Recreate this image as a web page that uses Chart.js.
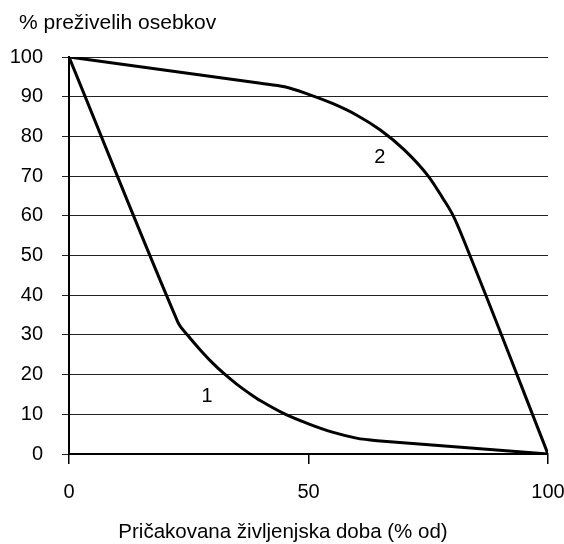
<!DOCTYPE html>
<html>
<head>
<meta charset="utf-8">
<script src="https://cdn.jsdelivr.net/npm/chart.js@4/dist/chart.umd.min.js"></script>
<style>
  html, body { margin: 0; padding: 0; background: #fff; overflow: hidden; }
  #wrap { width: 564px; height: 544px; }
</style>
</head>
<body>
<div id="wrap"><canvas id="survivalChart"></canvas></div>
<script>
// === survival curves ===
// Curve 1: high early mortality, curve 2: most die late

const curve1X = [0, 22.7, 25, 27.5, 30, 32.5, 35, 37.5, 40, 45, 50, 55, 60, 62.5, 65, 100];
const curve1Y = [100, 33.3, 29.6, 26.1, 22.9, 20.1, 17.6, 15.4, 13.4, 10.1, 7.6, 5.5, 4.0, 3.6, 3.3, 0];

const curve2X = [0, 40, 45, 50, 55, 60, 65, 70, 75, 78, 80.3, 83.7, 100];
const curve2Y = [100, 93.4, 92.5, 90.6, 88.3, 85.4, 81.6, 76.6, 70, 64.5, 59.8, 50, 0];

const curveLabels = ["1", "2"];
const labelX = [28.8, 64.9];
const labelY = [14.4, 74.6];

const yTitle = "% preživelih osebkov";
const xTitle = "Pričakovana življenjska doba (% od)";

const FONT = "'Liberation Sans', Arial, sans-serif";

const toPoints = (xs, ys) => xs.map((x, i) => ({ x, y: ys[i] }));

// draws the curve numbers and both axis titles
const textPlugin = {
  id: "textPlugin",
  afterDraw(chart) {
    const { ctx, scales } = chart;
    ctx.save();
    ctx.fillStyle = "#000";
    ctx.font = `20px ${FONT}`;
    ctx.textAlign = "center";
    ctx.textBaseline = "middle";
    curveLabels.forEach((t, i) => {
      ctx.fillText(t, scales.x.getPixelForValue(labelX[i]), scales.y.getPixelForValue(labelY[i]));
    });
    ctx.font = `20.5px ${FONT}`;
    ctx.fillText(xTitle, 283, 532);
    ctx.font = `21px ${FONT}`;
    ctx.textAlign = "left";
    ctx.fillText(yTitle, 19, 23);
    ctx.restore();
  }
};

const ctx = document.getElementById("survivalChart").getContext("2d");
new Chart(ctx, {
  type: "line",
  data: {
    datasets: [
      {
        label: "1",
        data: toPoints(curve1X, curve1Y),
        borderColor: "#000",
        borderWidth: 3,
        pointRadius: 0,
        tension: 0.35,
        fill: false,
      },
      {
        label: "2",
        data: toPoints(curve2X, curve2Y),
        borderColor: "#000",
        borderWidth: 3,
        pointRadius: 0,
        cubicInterpolationMode: "monotone",
        fill: false,
      }
    ]
  },
  options: {
    responsive: true,
    maintainAspectRatio: false,
    animation: false,
    layout: { padding: { left: 10, top: 57, right: 16, bottom: 0 } },
    plugins: {
      legend: { display: false },
      tooltip: { enabled: false },
    },
    scales: {
      x: {
        type: "linear",
        min: 0,
        max: 100,
        ticks: { stepSize: 50, color: "#000", font: { family: FONT, size: 20 }, padding: 16, maxRotation: 0 },
        grid: { drawOnChartArea: false, drawTicks: true, tickLength: 10, color: "#000", lineWidth: 1.5 },
        border: { display: true, color: "#000", width: 2 },
        afterFit(scale) {
          scale.height = 90;
          scale.paddingLeft = 0;
          scale.paddingRight = 0;
        },
      },
      y: {
        type: "linear",
        min: 0,
        max: 100,
        ticks: { stepSize: 10, color: "#000", font: { family: FONT, size: 20 }, padding: 19 },
        grid: { color: "#222", lineWidth: 1, drawTicks: true, tickLength: 7 },
        border: { display: true, color: "#000", width: 2 },
        afterFit(scale) {
          scale.width = 59;
        },
      }
    }
  },
  plugins: [textPlugin]
});
</script>
</body>
</html>
